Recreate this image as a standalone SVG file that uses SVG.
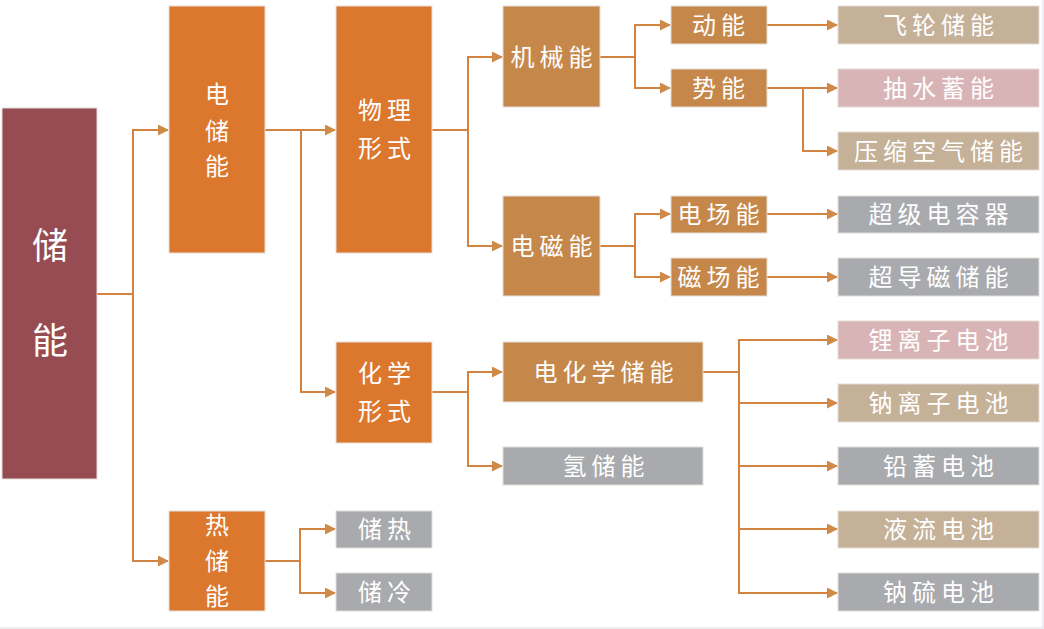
<svg xmlns="http://www.w3.org/2000/svg" width="1044" height="629" viewBox="0 0 1044 629">
<defs>
<marker id="arr" markerUnits="userSpaceOnUse" markerWidth="11" markerHeight="11" refX="10" refY="5.5" orient="auto">
<path d="M0,0 L11,5.5 L0,11 z" fill="#D08A48"/>
</marker>
<style>
.n{stroke:#E3DEDA;stroke-width:1}
.root{fill:#974C53}
.or{fill:#DC772E}
.br{fill:#C6884A}
.tan{fill:#C5B098}
.pk{fill:#D9B4B6}
.gy{fill:#A8AAAD}
text{font-family:"Noto Sans CJK SC","Noto Sans",sans-serif;fill:#FFFFFF;text-anchor:middle;dominant-baseline:central}
.t{font-size:24px;letter-spacing:5px}
.v{font-size:24px}
.big{font-size:36px}
.c{fill:none;stroke:#D4823F;stroke-width:2}
</style>
</defs>
<rect x="0" y="0" width="1044" height="629" fill="#FFFFFF"/>
<path d="M0,628 H1043 V0" fill="none" stroke="#E8E8EC" stroke-width="1.5"/>
<g id="connectors">
<path class="c" d="M97,294 H133 V130 H168" marker-end="url(#arr)"/>
<path class="c" d="M133,294 V561 H168" marker-end="url(#arr)"/>
<path class="c" d="M265,130 H335" marker-end="url(#arr)"/>
<path class="c" d="M301,130 V392 H335" marker-end="url(#arr)"/>
<path class="c" d="M432,130 H468 V57 H502" marker-end="url(#arr)"/>
<path class="c" d="M468,130 V246 H502" marker-end="url(#arr)"/>
<path class="c" d="M600,57 H635 V25 H670" marker-end="url(#arr)"/>
<path class="c" d="M635,57 V88 H670" marker-end="url(#arr)"/>
<path class="c" d="M600,246 H635 V214 H670" marker-end="url(#arr)"/>
<path class="c" d="M635,246 V277 H670" marker-end="url(#arr)"/>
<path class="c" d="M767,25 H837" marker-end="url(#arr)"/>
<path class="c" d="M767,88 H837" marker-end="url(#arr)"/>
<path class="c" d="M803,88 V151 H837" marker-end="url(#arr)"/>
<path class="c" d="M767,214 H837" marker-end="url(#arr)"/>
<path class="c" d="M767,277 H837" marker-end="url(#arr)"/>
<path class="c" d="M432,392 H468 V372 H502" marker-end="url(#arr)"/>
<path class="c" d="M468,392 V466 H502" marker-end="url(#arr)"/>
<path class="c" d="M703,372 H739 V340 H837" marker-end="url(#arr)"/>
<path class="c" d="M739,372 V593 H837" marker-end="url(#arr)"/>
<path class="c" d="M739,403 H837" marker-end="url(#arr)"/>
<path class="c" d="M739,466 H837" marker-end="url(#arr)"/>
<path class="c" d="M739,529 H837" marker-end="url(#arr)"/>
<path class="c" d="M265,561 H300 V529 H335" marker-end="url(#arr)"/>
<path class="c" d="M300,561 V593 H335" marker-end="url(#arr)"/>
</g>
<g id="n-root"><rect class="n root" x="2" y="108" width="95" height="371"/><text class="big" x="50" y="243">储</text><text class="big" x="50" y="338">能</text></g>
<g id="n-dian"><rect class="n or" x="169" y="6" width="96" height="247"/><text class="v" x="217" y="92">电</text><text class="v" x="217" y="129">储</text><text class="v" x="217" y="164">能</text></g>
<g id="n-re"><rect class="n or" x="169" y="511" width="96" height="100"/><text class="v" x="217" y="523">热</text><text class="v" x="217" y="559">储</text><text class="v" x="217" y="594">能</text></g>
<g id="n-wuli"><rect class="n or" x="336" y="6" width="96" height="247"/><text class="t" x="387" y="108">物理</text><text class="t" x="387" y="146">形式</text></g>
<g id="n-huaxue"><rect class="n or" x="336" y="342" width="96" height="101"/><text class="t" x="387" y="371">化学</text><text class="t" x="387" y="409">形式</text></g>
<g id="n-chure"><rect class="n gy" x="336" y="511" width="96" height="37"/><text class="t" x="387" y="527">储热</text></g>
<g id="n-chuleng"><rect class="n gy" x="336" y="573" width="96" height="38"/><text class="t" x="387" y="590">储冷</text></g>
<g id="n-jixie"><rect class="n br" x="503" y="6" width="97" height="101"/><text class="t" x="554" y="55">机械能</text></g>
<g id="n-dianci"><rect class="n br" x="503" y="196" width="97" height="100"/><text class="t" x="554" y="244">电磁能</text></g>
<g id="n-dianhuaxue"><rect class="n br" x="503" y="342" width="200" height="60"/><text class="t" x="606" y="370">电化学储能</text></g>
<g id="n-qing"><rect class="n gy" x="503" y="447" width="200" height="38"/><text class="t" x="606" y="464">氢储能</text></g>
<g id="n-dong"><rect class="n br" x="671" y="6" width="96" height="38"/><text class="t" x="721" y="23">动能</text></g>
<g id="n-shi"><rect class="n br" x="671" y="69" width="96" height="38"/><text class="t" x="721" y="86">势能</text></g>
<g id="n-dianchang"><rect class="n br" x="671" y="196" width="96" height="37"/><text class="t" x="721" y="212">电场能</text></g>
<g id="n-cichang"><rect class="n br" x="671" y="258" width="96" height="38"/><text class="t" x="721" y="275">磁场能</text></g>
<g id="n-feilun"><rect class="n tan" x="838" y="6" width="201" height="38"/><text class="t" x="941" y="23">飞轮储能</text></g>
<g id="n-choushui"><rect class="n pk" x="838" y="69" width="201" height="38"/><text class="t" x="941" y="86">抽水蓄能</text></g>
<g id="n-yasuo"><rect class="n tan" x="838" y="132" width="201" height="38"/><text class="t" x="941" y="149">压缩空气储能</text></g>
<g id="n-chaoji"><rect class="n gy" x="838" y="196" width="201" height="37"/><text class="t" x="941" y="212">超级电容器</text></g>
<g id="n-chaodao"><rect class="n gy" x="838" y="258" width="201" height="38"/><text class="t" x="941" y="275">超导磁储能</text></g>
<g id="n-li"><rect class="n pk" x="838" y="321" width="201" height="38"/><text class="t" x="941" y="338">锂离子电池</text></g>
<g id="n-na"><rect class="n tan" x="838" y="384" width="201" height="38"/><text class="t" x="941" y="401">钠离子电池</text></g>
<g id="n-qian"><rect class="n gy" x="838" y="447" width="201" height="38"/><text class="t" x="941" y="464">铅蓄电池</text></g>
<g id="n-yeliu"><rect class="n tan" x="838" y="511" width="201" height="37"/><text class="t" x="941" y="527">液流电池</text></g>
<g id="n-nali"><rect class="n gy" x="838" y="573" width="201" height="38"/><text class="t" x="941" y="590">钠硫电池</text></g>
</svg>
